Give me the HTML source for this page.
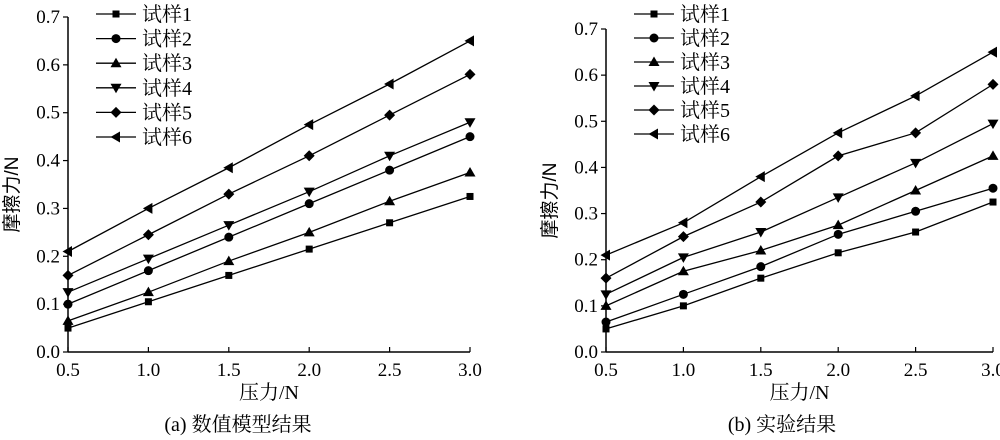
<!DOCTYPE html>
<html><head><meta charset="utf-8"><style>
html,body{margin:0;padding:0;background:#fff;}
svg{display:block;font-family:"Liberation Serif","Noto Serif CJK SC",serif;}
</style></head><body>
<svg id="s" width="1000" height="440" xmlns="http://www.w3.org/2000/svg"></svg>
<script>
const s=document.getElementById('s');let h='';
function mk(d,x0,x1,y0,y7,lx,ly,xl,cap,capx){
  const X=v=>x0+(v-0.5)/2.5*(x1-x0), Y=v=>y0-(v/0.7)*(y0-y7);
  h+=`<line x1="${x0}" y1="${y7}" x2="${x0}" y2="${y0}" stroke="#000" stroke-width="1.5"/>`;
  h+=`<line x1="${x0}" y1="${y0}" x2="${x1}" y2="${y0}" stroke="#000" stroke-width="1.5"/>`;
  for(let i=0;i<=7;i++){const y=Y(i/10);h+=`<line x1="${x0-5}" y1="${y}" x2="${x0}" y2="${y}" stroke="#000" stroke-width="1.2"/>`;
    h+=`<text x="${x0-8}" y="${y+6}" font-size="19" text-anchor="end">${(i/10).toFixed(1)}</text>`;}
  for(let i=0;i<6;i++){const v=0.5+i*0.5,x=X(v);h+=`<line x1="${x}" y1="${y0-5}" x2="${x}" y2="${y0}" stroke="#000" stroke-width="1.2"/>`;
    h+=`<text x="${x}" y="${y0+24}" font-size="19" text-anchor="middle">${v.toFixed(1)}</text>`;}
  const xs=[0.5,1,1.5,2,2.5,3];
  d.forEach((ser,k)=>{
    h+=`<polyline fill="none" stroke="#000" stroke-width="1.3" points="${ser.map((v,i)=>X(xs[i])+','+Y(v)).join(' ')}"/>`;
    ser.forEach((v,i)=>h+=mark(k,X(xs[i]),Y(v)));
    const ry=ly+k*lspace;
    h+=`<line x1="${lx}" y1="${ry}" x2="${lx+40}" y2="${ry}" stroke="#000" stroke-width="1.3"/>`+mark(k,lx+20,ry);
    h+=`<text x="${lx+46}" y="${ry+7}" font-size="20">试样${k+1}</text>`;
  });
  h+=`<text transform="translate(${x0-50},${(y0+y7)/2+10}) rotate(-90)" font-size="19" font-family="Liberation Sans,Noto Sans CJK SC,sans-serif" text-anchor="middle">摩擦力/N</text>`;
  h+=`<text x="${(x0+x1)/2}" y="399" font-size="20" text-anchor="middle">${xl}</text>`;
  h+=`<text x="${capx}" y="431" font-size="20" text-anchor="middle">${cap}</text>`;
}
let lspace=24.6;
function mark(k,x,y){
  switch(k){
    case 0:return `<rect x="${x-3.5}" y="${y-3.5}" width="7" height="7"/>`;
    case 1:return `<circle cx="${x}" cy="${y}" r="4.5"/>`;
    case 2:return `<polygon points="${x},${y-5.5} ${x-5.5},${y+4} ${x+5.5},${y+4}"/>`;
    case 3:return `<polygon points="${x},${y+5.5} ${x-5.5},${y-4} ${x+5.5},${y-4}"/>`;
    case 4:return `<polygon points="${x},${y-5.5} ${x+5.5},${y} ${x},${y+5.5} ${x-5.5},${y}"/>`;
    case 5:return `<polygon points="${x-5.5},${y} ${x+4},${y-5.5} ${x+4},${y+5.5}"/>`;
  }
}
const A=[[.05,.105,.16,.215,.27,.325],[.10,.17,.24,.31,.38,.45],[.065,.125,.19,.25,.315,.375],[.125,.195,.265,.335,.41,.48],[.16,.245,.33,.41,.495,.58],[.21,.30,.385,.475,.56,.65]];
const B=[[.05,.10,.16,.215,.26,.325],[.065,.125,.185,.255,.305,.355],[.10,.175,.22,.275,.35,.425],[.125,.205,.26,.335,.41,.495],[.16,.25,.325,.425,.475,.58],[.21,.28,.38,.475,.555,.65]];
mk(A,68,470,352,17,96,14,'压力/N','(a) 数值模型结果',238);
lspace=24;
mk(B,606,993,352,29,634,14,'压力/N','(b) 实验结果',782);
s.innerHTML=h;
</script>
</body></html>
